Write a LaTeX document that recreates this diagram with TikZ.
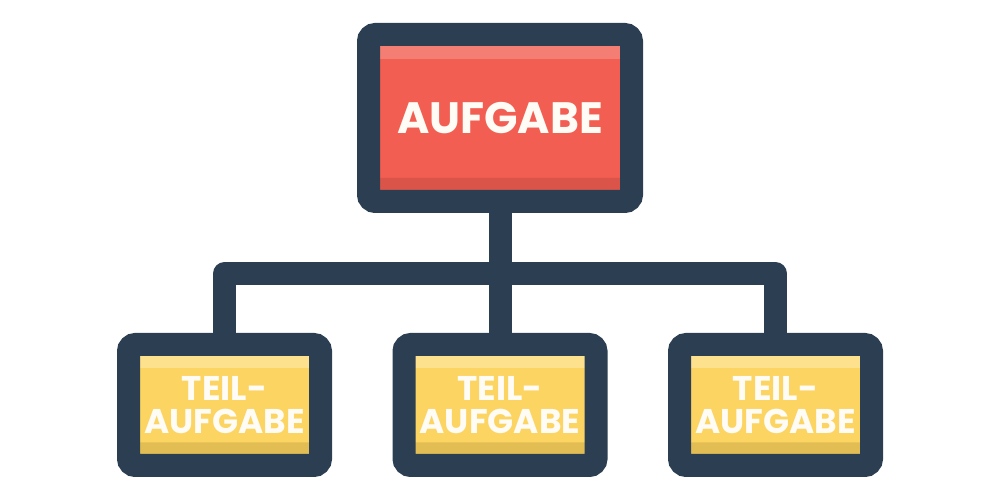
\documentclass[tikz,border=0pt]{standalone}
\usepackage{fontspec}
\setmainfont{Poppins}
\usetikzlibrary{positioning}
\definecolor{navy}{HTML}{2C3E52}
\definecolor{taskred}{HTML}{F25E51}
\definecolor{taskredlight}{HTML}{F47D74}
\definecolor{taskreddark}{HTML}{DA5449}
\definecolor{subyellow}{HTML}{FCD462}
\definecolor{subyellowlight}{HTML}{FDE18C}
\definecolor{subyellowdark}{HTML}{E2BD54}
\definecolor{labelwhite}{HTML}{FFFBF5}
\tikzset{strips/.style n args={4}{path picture={
    \fill[#1] (path picture bounding box.north west) rectangle ([yshift=-#3]path picture bounding box.north east);
    \fill[#2] (path picture bounding box.south west) rectangle ([yshift=#4]path picture bounding box.south east);}}}
\tikzset{frame/.style = {draw=navy, line width=0.46cm, rounded corners=0.14cm, outer sep=0,
                         inner sep=0, text=labelwhite, align=center}}
\tikzset{taskbox/.style = {frame, fill=taskred, minimum width=5.26cm, minimum height=3.34cm,
                           strips={taskredlight}{taskreddark}{0.49cm}{0.47cm},
                           font=\fontsize{25}{30}\selectfont\bfseries}}
\tikzset{subbox/.style = {frame, fill=subyellow, minimum width=3.84cm, minimum height=2.42cm,
                          strips={subyellowlight}{subyellowdark}{0.47cm}{0.46cm},
                          font=\fontsize{19.5}{18.8}\selectfont\bfseries}}
\tikzset{link/.style = {draw=navy, line width=0.46cm, line join=round}}

\begin{document}
\begin{tikzpicture}
    \useasboundingbox (0, 0) rectangle (20, 10);

    \node [taskbox] (task) at (10, 7.64) {AUFGABE};

    \node [subbox] (sub1) at (4.49, 1.9) {TEIL-\\AUFGABE};
    \node [subbox] (sub2) at (10, 1.9) {TEIL-\\AUFGABE};
    \node [subbox] (sub3) at (15.51, 1.9) {TEIL-\\AUFGABE};

    \coordinate (bar) at (10, 4.53);

    \begin{scope}[on background layer/.try]
      \path [link] (sub1.north) |- (bar) -| (sub3.north);
      \path [link] (task.south) -- (sub2.north);
    \end{scope}
\end{tikzpicture}
\end{document}
